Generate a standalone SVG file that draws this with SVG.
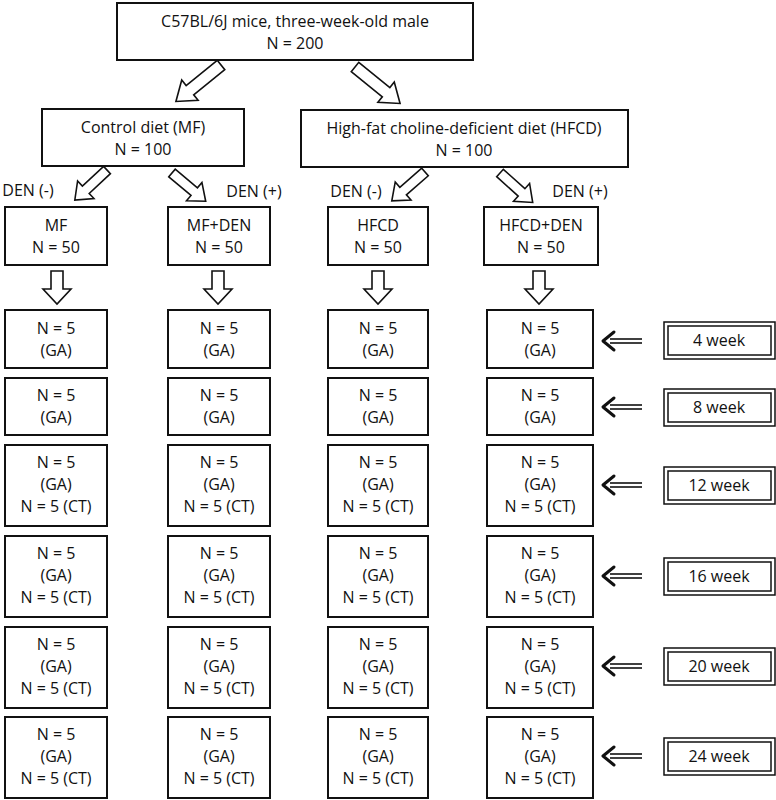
<svg xmlns="http://www.w3.org/2000/svg" width="776" height="800" viewBox="0 0 776 800">
<defs>
<style>
text{font-family:"Open Sans","Noto Sans",sans-serif;font-size:16px;fill:#111;text-anchor:middle}
.b{fill:#fff;stroke:#111;stroke-width:2}
.ar{fill:#fff;stroke:#111;stroke-width:1.6;stroke-linejoin:miter}
.wk{fill:#fff;stroke:#111;stroke-width:1.5}
.dl{stroke:#111;stroke-width:1.6;fill:none}
.hd{stroke:#111;stroke-width:3;fill:none;stroke-linecap:round;stroke-linejoin:round}
</style>
<polygon id="dlong" class="ar" points="-6,0 6,0 6,40 13,40 0,58 -13,40 -6,40"/>
<polygon id="dshort" class="ar" points="-5,0 5,0 5,29 12,29 0,44 -12,29 -5,29"/>
<polygon id="dn" class="ar" points="-6,0 6,0 6,18 14,18 0,33 -14,18 -6,18"/>
<g id="la"><line class="dl" x1="610" y1="-2" x2="642" y2="-2"/><line class="dl" x1="610" y1="2" x2="642" y2="2"/><polyline class="hd" points="614,-9 603,0 614,9"/></g>
</defs>
<g id="connectors">
<use href="#dlong" transform="translate(221,65) rotate(51)"/>
<use href="#dlong" transform="translate(355,67) rotate(-51)"/>
<use href="#dshort" transform="translate(107,170) rotate(47)"/>
<use href="#dshort" transform="translate(172,173) rotate(-50)"/>
<use href="#dshort" transform="translate(425,172) rotate(49)"/>
<use href="#dshort" transform="translate(500,173) rotate(-48)"/>
<use href="#dn" transform="translate(57,271)"/>
<use href="#dn" transform="translate(218,271)"/>
<use href="#dn" transform="translate(378,271)"/>
<use href="#dn" transform="translate(539,271)"/>
<use href="#la" transform="translate(0,341)"/>
<use href="#la" transform="translate(0,407)"/>
<use href="#la" transform="translate(0,485)"/>
<use href="#la" transform="translate(0,576)"/>
<use href="#la" transform="translate(0,666)"/>
<use href="#la" transform="translate(0,756)"/>
</g>
<g id="top"><rect class="b" x="117" y="3" width="356" height="57"/><text x="295" y="27">C57BL/6J mice, three-week-old male</text><text x="295" y="49">N = 200</text></g>
<g id="ctrl"><rect class="b" x="42" y="109" width="202" height="57"/><text x="143" y="133">Control diet (MF)</text><text x="143" y="155">N = 100</text></g>
<g id="hfcd"><rect class="b" x="301" y="110" width="327" height="57"/><text x="464" y="134">High-fat choline-deficient diet (HFCD)</text><text x="464" y="156">N = 100</text></g>
<g id="labels"><text x="28" y="196">DEN (-)</text><text x="254" y="197">DEN (+)</text><text x="356" y="197">DEN (-)</text><text x="580" y="197">DEN (+)</text></g>
<g id="mf"><rect class="b" x="5" y="207" width="102" height="58"/><text x="56" y="231">MF</text><text x="56" y="253">N = 50</text></g>
<g id="mfden"><rect class="b" x="168" y="207" width="102" height="58"/><text x="219" y="231">MF+DEN</text><text x="219" y="253">N = 50</text></g>
<g id="hf"><rect class="b" x="328" y="207" width="100" height="58"/><text x="378" y="231">HFCD</text><text x="378" y="253">N = 50</text></g>
<g id="hfden"><rect class="b" x="484" y="207" width="114" height="58"/><text x="541" y="231">HFCD+DEN</text><text x="541" y="253">N = 50</text></g>
<g id="grid">
<g id="r1">
<rect class="b" x="5" y="310" width="102" height="58"/><text x="56" y="334">N = 5</text><text x="56" y="356">(GA)</text>
<rect class="b" x="168" y="310" width="102" height="58"/><text x="219" y="334">N = 5</text><text x="219" y="356">(GA)</text>
<rect class="b" x="328" y="310" width="100" height="58"/><text x="378" y="334">N = 5</text><text x="378" y="356">(GA)</text>
<rect class="b" x="487" y="310" width="106" height="58"/><text x="540" y="334">N = 5</text><text x="540" y="356">(GA)</text>
</g>
<g id="r2">
<rect class="b" x="5" y="378" width="102" height="57"/><text x="56" y="401">N = 5</text><text x="56" y="423">(GA)</text>
<rect class="b" x="168" y="378" width="102" height="57"/><text x="219" y="401">N = 5</text><text x="219" y="423">(GA)</text>
<rect class="b" x="328" y="378" width="100" height="57"/><text x="378" y="401">N = 5</text><text x="378" y="423">(GA)</text>
<rect class="b" x="487" y="378" width="106" height="57"/><text x="540" y="401">N = 5</text><text x="540" y="423">(GA)</text>
</g>
<g id="r3" transform="translate(0,445)">
<rect class="b" x="5" y="0" width="102" height="81"/><text x="56" y="23">N = 5</text><text x="56" y="45">(GA)</text><text x="56" y="67">N = 5 (CT)</text>
<rect class="b" x="168" y="0" width="102" height="81"/><text x="219" y="23">N = 5</text><text x="219" y="45">(GA)</text><text x="219" y="67">N = 5 (CT)</text>
<rect class="b" x="328" y="0" width="100" height="81"/><text x="378" y="23">N = 5</text><text x="378" y="45">(GA)</text><text x="378" y="67">N = 5 (CT)</text>
<rect class="b" x="487" y="0" width="106" height="81"/><text x="540" y="23">N = 5</text><text x="540" y="45">(GA)</text><text x="540" y="67">N = 5 (CT)</text>
</g>
<g id="r4" transform="translate(0,536)">
<rect class="b" x="5" y="0" width="102" height="81"/><text x="56" y="23">N = 5</text><text x="56" y="45">(GA)</text><text x="56" y="67">N = 5 (CT)</text>
<rect class="b" x="168" y="0" width="102" height="81"/><text x="219" y="23">N = 5</text><text x="219" y="45">(GA)</text><text x="219" y="67">N = 5 (CT)</text>
<rect class="b" x="328" y="0" width="100" height="81"/><text x="378" y="23">N = 5</text><text x="378" y="45">(GA)</text><text x="378" y="67">N = 5 (CT)</text>
<rect class="b" x="487" y="0" width="106" height="81"/><text x="540" y="23">N = 5</text><text x="540" y="45">(GA)</text><text x="540" y="67">N = 5 (CT)</text>
</g>
<g id="r5" transform="translate(0,627)">
<rect class="b" x="5" y="0" width="102" height="81"/><text x="56" y="23">N = 5</text><text x="56" y="45">(GA)</text><text x="56" y="67">N = 5 (CT)</text>
<rect class="b" x="168" y="0" width="102" height="81"/><text x="219" y="23">N = 5</text><text x="219" y="45">(GA)</text><text x="219" y="67">N = 5 (CT)</text>
<rect class="b" x="328" y="0" width="100" height="81"/><text x="378" y="23">N = 5</text><text x="378" y="45">(GA)</text><text x="378" y="67">N = 5 (CT)</text>
<rect class="b" x="487" y="0" width="106" height="81"/><text x="540" y="23">N = 5</text><text x="540" y="45">(GA)</text><text x="540" y="67">N = 5 (CT)</text>
</g>
<g id="r6" transform="translate(0,717)">
<rect class="b" x="5" y="0" width="102" height="81"/><text x="56" y="23">N = 5</text><text x="56" y="45">(GA)</text><text x="56" y="67">N = 5 (CT)</text>
<rect class="b" x="168" y="0" width="102" height="81"/><text x="219" y="23">N = 5</text><text x="219" y="45">(GA)</text><text x="219" y="67">N = 5 (CT)</text>
<rect class="b" x="328" y="0" width="100" height="81"/><text x="378" y="23">N = 5</text><text x="378" y="45">(GA)</text><text x="378" y="67">N = 5 (CT)</text>
<rect class="b" x="487" y="0" width="106" height="81"/><text x="540" y="23">N = 5</text><text x="540" y="45">(GA)</text><text x="540" y="67">N = 5 (CT)</text>
</g>
</g>
<g id="weeks">
<g id="w4" transform="translate(0,322)"><rect class="wk" x="664" y="0" width="111" height="37"/><rect class="wk" x="668" y="4" width="103" height="29"/><text x="719" y="24">4 week</text></g>
<g id="w8" transform="translate(0,389)"><rect class="wk" x="664" y="0" width="111" height="37"/><rect class="wk" x="668" y="4" width="103" height="29"/><text x="719" y="24">8 week</text></g>
<g id="w12" transform="translate(0,467)"><rect class="wk" x="664" y="0" width="111" height="37"/><rect class="wk" x="668" y="4" width="103" height="29"/><text x="719" y="24">12 week</text></g>
<g id="w16" transform="translate(0,558)"><rect class="wk" x="664" y="0" width="111" height="37"/><rect class="wk" x="668" y="4" width="103" height="29"/><text x="719" y="24">16 week</text></g>
<g id="w20" transform="translate(0,648)"><rect class="wk" x="664" y="0" width="111" height="37"/><rect class="wk" x="668" y="4" width="103" height="29"/><text x="719" y="24">20 week</text></g>
<g id="w24" transform="translate(0,738)"><rect class="wk" x="664" y="0" width="111" height="37"/><rect class="wk" x="668" y="4" width="103" height="29"/><text x="719" y="24">24 week</text></g>
</g>
</svg>
